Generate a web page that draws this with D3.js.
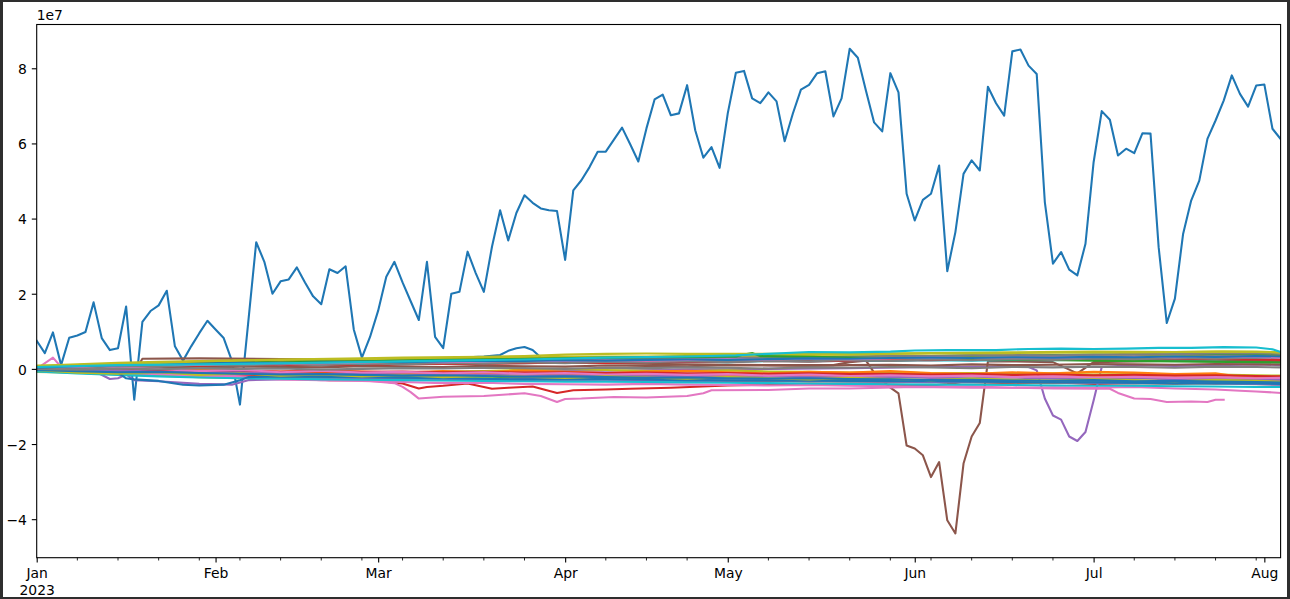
<!DOCTYPE html>
<html>
<head>
<meta charset="utf-8">
<script src="https://cdn.jsdelivr.net/npm/d3@7"></script>
<style>
  html, body { margin: 0; padding: 0; background: #2e2e2e; }
  svg { display: block; }
  text { font-family: "DejaVu Sans", sans-serif; font-size: 13.9px; fill: #000; }
</style>
</head>
<body>
<div id="chart"></div>
<script>
// all values are in units of 1e7 (the axis offset label)

// main series, one value per business day (Jan 2 .. Aug 3 2023)
const flowTotal = [
  0.75, 0.42, 0.97, 0.1, 0.83, 0.89, 0.98, 1.77, 0.82, 0.5,
  0.55, 1.66, -0.82, 1.25, 1.54, 1.69, 2.08, 0.6, 0.22, 0.6,
  0.95, 1.28, 1.05, 0.82, 0.22, -0.95, 1.2, 3.37, 2.85, 2.0,
  2.33, 2.38, 2.7, 2.3, 1.93, 1.72, 2.65, 2.55, 2.73, 1.05,
  0.3, 0.85, 1.55, 2.45, 2.85, 2.3, 1.8, 1.3, 2.85, 0.85,
  0.55, 2.0, 2.05, 3.12, 2.55, 2.05, 3.25, 4.22, 3.42, 4.15,
  4.62, 4.42, 4.27, 4.22, 4.2, 2.9, 4.75, 5.02, 5.37, 5.78,
  5.78, 6.1, 6.42, 5.98, 5.52, 6.4, 7.17, 7.3, 6.75, 6.8,
  7.55, 6.35, 5.62, 5.9, 5.35, 6.8, 7.88, 7.93, 7.2, 7.07,
  7.36, 7.12, 6.06, 6.79, 7.43, 7.56, 7.87, 7.92, 6.72, 7.2,
  8.52, 8.28, 7.4, 6.56, 6.32, 7.87, 7.36, 4.66, 3.95, 4.5,
  4.66, 5.41, 2.6, 3.64, 5.19, 5.55, 5.28, 7.51, 7.07, 6.74,
  8.45, 8.5, 8.07, 7.85, 4.44, 2.8, 3.11, 2.64, 2.49, 3.33,
  5.5, 6.86, 6.63, 5.68, 5.86, 5.74, 6.27, 6.26, 3.24, 1.22,
  1.87, 3.58, 4.48, 5.01, 6.12, 6.61, 7.14, 7.81, 7.32, 6.98,
  7.54, 7.57, 6.39, 6.12
];

// distinct series, as [business day index, value]
const brownDip = [[0,-0.05],[5,0.0],[12,-0.1],[13,0.27],[20,0.28],[30,0.26],[40,0.24],[50,0.22],[60,0.18],
  [70,0.15],[80,0.12],[90,0.1],[98,0.1],[100,0.18],[102,0.22],[103,-0.1],[104,-0.3],[105,-0.5],[106,-0.65],
  [107,-2.04],[108,-2.12],[109,-2.3],[110,-2.88],[111,-2.48],[112,-4.03],[113,-4.38],[114,-2.52],[115,-1.8],
  [116,-1.44],[117,0.2],[120,0.2],[125,0.18],[128,-0.12],[130,0.18],[135,0.2],[140,0.22],[145,0.2],[150,0.22],[153,0.2]];

const purpleDip = [[0,0.02],[5,-0.05],[10,-0.08],[20,-0.1],[30,-0.12],[40,-0.1],[50,-0.08],[60,-0.05],[70,-0.05],
  [80,-0.02],[90,0.0],[100,0.02],[110,0.05],[115,0.05],[120,0.06],[122,0.05],[123,-0.04],[124,-0.79],[125,-1.24],
  [126,-1.35],[127,-1.8],[128,-1.92],[129,-1.68],[130,-0.84],[131,0.05],[135,0.1],[140,0.08],[145,0.1],[150,0.12],[153,0.1]];

const pinkLow = [[0,0.0],[2,0.3],[3,0.05],[5,0.0],[10,-0.05],[15,-0.1],[20,-0.15],[25,-0.2],[30,-0.25],[35,-0.3],
  [40,-0.3],[44,-0.38],[45,-0.48],[46,-0.62],[47,-0.79],[50,-0.74],[55,-0.72],[60,-0.65],[62,-0.72],[64,-0.88],
  [65,-0.8],[67,-0.79],[71,-0.75],[75,-0.76],[80,-0.72],[82,-0.65],[83,-0.57],[90,-0.56],[95,-0.52],[100,-0.52],
  [108,-0.48],[115,-0.5],[120,-0.5],[125,-0.52],[130,-0.53],[132,-0.53],[133,-0.64],[135,-0.79],[137,-0.8],
  [139,-0.88],[142,-0.87],[144,-0.88],[145,-0.82],[146,-0.82]];

const pinkEnd = [[0,-0.05],[5,-0.07],[10,-0.1],[15,-0.14],[20,-0.18],[25,-0.22],[30,-0.28],[35,-0.3],[40,-0.32],
  [45,-0.35],[50,-0.38],[55,-0.37],[60,-0.4],[65,-0.41],[70,-0.42],[75,-0.4],[80,-0.42],[85,-0.43],[90,-0.44],
  [95,-0.43],[100,-0.45],[105,-0.46],[110,-0.47],[115,-0.46],[120,-0.5],[125,-0.49],[130,-0.5],[135,-0.48],
  [140,-0.52],[145,-0.55],[148,-0.58],[150,-0.6],[153,-0.64]];

const redLow = [[0,-0.02],[5,-0.05],[10,-0.08],[15,-0.1],[20,-0.15],[25,-0.18],[30,-0.22],[36,-0.3],[41,-0.3],
  [45,-0.39],[47,-0.52],[48,-0.48],[50,-0.45],[53,-0.39],[56,-0.53],[58,-0.5],[61,-0.47],[64,-0.64],[66,-0.57],
  [70,-0.55],[73,-0.53],[78,-0.5],[85,-0.44],[90,-0.42],[95,-0.39],[100,-0.4],[105,-0.42],[110,-0.44],[112,-0.4],
  [114,-0.35],[120,-0.38],[125,-0.36],[130,-0.4],[135,-0.38],[140,-0.35],[145,-0.38],[150,-0.35],[153,-0.36]];

const cyanTop = [[0,0.05],[10,0.1],[20,0.12],[30,0.15],[40,0.18],[50,0.22],[60,0.25],[70,0.3],[80,0.33],[86,0.36],
  [90,0.4],[95,0.45],[100,0.44],[105,0.46],[108,0.49],[112,0.5],[118,0.5],[122,0.53],[126,0.54],[130,0.53],
  [134,0.54],[138,0.56],[142,0.56],[146,0.58],[150,0.57],[152,0.52],[153,0.45]];

const oliveTop = [[0,0.08],[10,0.12],[20,0.2],[30,0.25],[40,0.28],[45,0.3],[55,0.32],[60,0.34],[65,0.38],[70,0.4],
  [75,0.41],[80,0.4],[85,0.4],[90,0.4],[100,0.4],[110,0.42],[120,0.44],[130,0.46],[140,0.45],[146,0.46],[150,0.45],[153,0.44]];

const blueBump = [[0,0.0],[10,0.1],[20,0.15],[30,0.2],[40,0.25],[50,0.28],[53,0.31],[55,0.33],[57,0.37],[58,0.48],
  [59,0.55],[60,0.58],[61,0.5],[62,0.3],[63,0.25],[70,0.22],[80,0.2],[90,0.22],[100,0.25],[110,0.28],[120,0.28],
  [130,0.3],[140,0.3],[150,0.3],[153,0.28]];

const blueJan = [[0,-0.02],[5,-0.05],[10,-0.1],[11,-0.25],[12,-0.28],[15,-0.32],[18,-0.42],[20,-0.44],[23,-0.42],
  [25,-0.3],[26,-0.22],[30,-0.2],[40,-0.22],[50,-0.25],[60,-0.28],[70,-0.27],[80,-0.3],[90,-0.31],[100,-0.32],
  [110,-0.33],[120,-0.35],[130,-0.36],[140,-0.38],[150,-0.39],[153,-0.4]];

const purpleJan = [[0,0.02],[7,-0.05],[9,-0.27],[10,-0.25],[11,-0.15],[12,-0.3],[15,-0.33],[20,-0.4],[24,-0.42],
  [26,-0.3],[30,-0.28],[40,-0.27],[50,-0.3],[60,-0.28],[70,-0.3],[80,-0.32],[90,-0.3],[100,-0.33],[110,-0.35],
  [120,-0.33],[130,-0.37],[140,-0.36],[150,-0.4],[153,-0.42]];

const greenSpike = [[0,0.03],[10,0.08],[20,0.14],[30,0.18],[40,0.2],[50,0.24],[60,0.27],[70,0.3],[80,0.32],[86,0.33],
  [87,0.38],[88,0.42],[89,0.34],[95,0.32],[100,0.3],[110,0.27],[120,0.25],[130,0.22],[140,0.2],[150,0.18],[153,0.17]];

// the dense band: weekly readings (every 5th business day)
const weekDays = [0,5,10,15,20,25,30,35,40,45,50,55,60,65,70,75,80,85,90,95,100,105,110,115,120,125,130,135,140,145,150,153];
const orangeA = [0.05,0.08,0.12,0.1,0.14,0.16,0.15,0.18,0.2,0.19,0.22,0.21,0.24,0.23,0.2,0.22,0.25,0.24,0.27,0.26,0.28,0.3,0.29,0.31,0.3,0.33,0.32,0.34,0.33,0.35,0.36,0.34];
const greenA = [-0.04,-0.08,-0.1,-0.14,-0.13,-0.16,-0.18,-0.17,-0.2,-0.22,-0.21,-0.2,-0.23,-0.24,-0.22,-0.25,-0.26,-0.24,-0.27,-0.28,-0.3,-0.29,-0.31,-0.3,-0.32,-0.33,-0.31,-0.34,-0.33,-0.35,-0.36,-0.35];
const redA = [0.02,0.0,-0.03,0.02,0.06,0.08,0.07,0.1,0.08,0.12,0.14,0.13,0.15,0.17,0.16,0.18,0.2,0.19,0.21,0.2,0.22,0.24,0.23,0.25,0.26,0.24,0.27,0.28,0.27,0.26,0.25,0.24];
const purpleA = [-0.02,-0.05,-0.04,-0.08,-0.1,-0.09,-0.12,-0.14,-0.13,-0.15,-0.17,-0.16,-0.18,-0.17,-0.19,-0.2,-0.18,-0.21,-0.2,-0.22,-0.23,-0.21,-0.24,-0.25,-0.23,-0.26,-0.27,-0.25,-0.28,-0.27,-0.29,-0.3];
const brownA = [0.0,0.02,0.05,0.04,0.03,0.06,0.05,0.04,0.07,0.06,0.05,0.08,0.07,0.06,0.09,0.08,0.07,0.1,0.09,0.08,0.1,0.11,0.09,0.12,0.1,0.11,0.13,0.12,0.11,0.13,0.12,0.12];
const pinkA = [0.03,0.06,0.1,0.12,0.11,0.14,0.16,0.15,0.17,0.19,0.18,0.2,0.22,0.21,0.23,0.22,0.24,0.26,0.25,0.27,0.26,0.28,0.3,0.29,0.31,0.3,0.32,0.33,0.31,0.33,0.32,0.3];
const grayA = [-0.06,-0.1,-0.14,-0.17,-0.2,-0.22,-0.21,-0.24,-0.26,-0.25,-0.27,-0.28,-0.27,-0.29,-0.3,-0.31,-0.3,-0.32,-0.33,-0.32,-0.34,-0.35,-0.36,-0.35,-0.37,-0.38,-0.37,-0.39,-0.4,-0.39,-0.41,-0.42];
const oliveA = [-0.08,-0.1,-0.15,-0.18,-0.22,-0.25,-0.2,-0.18,-0.12,-0.1,-0.08,-0.06,-0.02,0.0,-0.03,-0.05,-0.06,-0.04,-0.07,-0.08,-0.1,-0.09,-0.12,-0.11,-0.13,-0.12,-0.15,-0.14,-0.16,-0.15,-0.17,-0.18];
const cyanA = [0.01,0.03,0.06,0.08,0.07,0.1,0.12,0.11,0.13,0.15,0.14,0.16,0.15,0.18,0.17,0.19,0.2,0.18,0.21,0.2,0.22,0.21,0.23,0.22,0.24,0.23,0.25,0.24,0.26,0.25,0.27,0.26];
const blueA = [-0.03,-0.06,-0.09,-0.08,-0.11,-0.13,-0.15,-0.14,-0.16,-0.18,-0.17,-0.19,-0.21,-0.2,-0.22,-0.24,-0.23,-0.25,-0.26,-0.25,-0.27,-0.28,-0.3,-0.29,-0.31,-0.32,-0.3,-0.33,-0.32,-0.34,-0.35,-0.36];
const orangeB = [-0.05,-0.07,-0.1,-0.12,-0.1,-0.08,-0.09,-0.11,-0.1,-0.12,-0.14,-0.13,-0.12,-0.15,-0.14,-0.16,-0.15,-0.17,-0.16,-0.18,-0.19,-0.17,-0.2,-0.19,-0.21,-0.2,-0.22,-0.21,-0.23,-0.22,-0.24,-0.25];
const greenB = [0.06,0.1,0.13,0.16,0.18,0.17,0.2,0.22,0.21,0.23,0.25,0.24,0.26,0.25,0.27,0.29,0.28,0.3,0.29,0.31,0.33,0.32,0.34,0.36,0.35,0.37,0.38,0.37,0.39,0.38,0.4,0.38];
const redB = [-0.01,-0.02,-0.04,-0.03,-0.06,-0.05,-0.07,-0.06,-0.08,-0.07,-0.09,-0.08,-0.1,-0.09,-0.11,-0.1,-0.12,-0.11,-0.13,-0.12,-0.14,-0.13,-0.15,-0.14,-0.16,-0.15,-0.17,-0.16,-0.18,-0.17,-0.19,-0.2];
const grayB = [0.04,0.08,0.1,0.13,0.15,0.18,0.19,0.2,0.22,0.24,0.23,0.25,0.27,0.26,0.28,0.3,0.29,0.31,0.32,0.31,0.33,0.35,0.34,0.36,0.37,0.36,0.38,0.4,0.39,0.41,0.42,0.4];
const oliveB = [0.08,0.12,0.16,0.19,0.21,0.22,0.24,0.25,0.26,0.27,0.28,0.29,0.3,0.32,0.33,0.33,0.34,0.35,0.36,0.37,0.38,0.4,0.41,0.42,0.42,0.43,0.44,0.44,0.45,0.46,0.46,0.44];
const cyanB = [-0.07,-0.12,-0.16,-0.2,-0.23,-0.25,-0.26,-0.28,-0.29,-0.3,-0.31,-0.32,-0.33,-0.34,-0.34,-0.35,-0.36,-0.37,-0.38,-0.39,-0.4,-0.41,-0.42,-0.42,-0.43,-0.44,-0.45,-0.45,-0.46,-0.47,-0.48,-0.48];
const grayC = [0.0,-0.02,0.01,-0.01,0.02,0.0,0.01,-0.02,0.0,0.02,0.01,0.03,0.02,0.0,0.03,0.02,0.04,0.03,0.01,0.04,0.03,0.05,0.04,0.02,0.05,0.04,0.06,0.05,0.03,0.06,0.05,0.04];
const blueB = [0.03,0.07,0.1,0.12,0.14,0.16,0.15,0.17,0.19,0.18,0.2,0.22,0.21,0.23,0.22,0.24,0.25,0.24,0.26,0.28,0.27,0.29,0.3,0.29,0.31,0.3,0.32,0.31,0.33,0.32,0.34,0.33];
const orangeC = [-0.02,0.03,-0.04,-0.06,0.0,-0.05,-0.08,-0.03,-0.07,-0.1,-0.06,-0.09,-0.04,-0.08,-0.11,-0.07,-0.05,-0.09,-0.12,-0.08,-0.1,-0.06,-0.11,-0.13,-0.09,-0.12,-0.08,-0.1,-0.14,-0.12,-0.27,-0.28];
const pinkB = [0.02,-0.03,0.04,0.0,-0.06,-0.02,-0.09,-0.05,-0.1,-0.08,-0.12,-0.09,-0.13,-0.11,-0.15,-0.13,-0.16,-0.14,-0.18,-0.15,-0.19,-0.17,-0.2,-0.18,-0.22,-0.2,-0.23,-0.21,-0.24,-0.22,-0.25,-0.24];
const grayD = [0.05,0.02,0.08,0.06,0.11,0.09,0.13,0.1,0.15,0.12,0.16,0.14,0.18,0.15,0.19,0.17,0.21,0.18,0.22,0.2,0.24,0.21,0.25,0.23,0.27,0.24,0.28,0.26,0.29,0.27,0.3,0.29];
const oliveC = [-0.03,-0.1,-0.13,-0.09,-0.16,-0.12,-0.18,-0.15,-0.2,-0.17,-0.22,-0.19,-0.21,-0.24,-0.2,-0.23,-0.26,-0.22,-0.25,-0.28,-0.24,-0.27,-0.3,-0.26,-0.29,-0.31,-0.28,-0.3,-0.33,-0.29,-0.32,-0.34];

const yTicks = [-4, -2, 0, 2, 4, 6, 8];
const offsetLabel = "1e7";

// ---------------------------------------------------------------
const tab10 = d3.schemeCategory10;
const weekly = vals => vals.map((v, i) => [weekDays[i], v]);

// draw order, colour index into tab10
const lines = [
  [flowTotal.map((v, i) => [i, v]), 0],
  [weekly(orangeA), 1], [weekly(greenA), 2], [redLow, 3], [purpleDip, 4], [brownDip, 5],
  [pinkLow, 6], [weekly(grayA), 7], [weekly(oliveA), 8], [weekly(cyanA), 9],
  [blueBump, 0], [weekly(orangeB), 1], [weekly(greenB), 2], [weekly(redA), 3], [purpleJan, 4],
  [weekly(brownA), 5], [pinkEnd, 6], [weekly(grayB), 7], [weekly(oliveB), 8], [weekly(cyanB), 9],
  [blueJan, 0], [weekly(orangeC), 1], [greenSpike, 2], [weekly(redB), 3], [weekly(purpleA), 4],
  [weekly(pinkB), 6], [weekly(grayD), 7], [weekly(oliveC), 8],
  [weekly(blueA), 0], [weekly(pinkA), 6], [weekly(grayC), 7], [weekly(blueB), 0], [oliveTop, 8], [cyanTop, 9]
];

// business days Jan 2 .. Aug 3 2023
const days = d3.timeDay.range(new Date(2023, 0, 2), new Date(2023, 7, 4))
  .filter(d => d.getDay() !== 0 && d.getDay() !== 6);

const majorIdx = days.map((d, i) => i).filter(i => i === 0 || days[i].getMonth() !== days[i - 1].getMonth());
const minorIdx = days.map((d, i) => i).filter(i => days[i].getDay() === 1 && !majorIdx.includes(i));

const W = 1290, H = 599;
const margin = { top: 24.5, right: 9.4, bottom: 41.3, left: 36.7 };
const width = W - margin.left - margin.right;
const height = H - margin.top - margin.bottom;

const svgRoot = d3.select("#chart").append("svg").attr("width", W).attr("height", H);
svgRoot.append("rect").attr("width", W).attr("height", H).attr("fill", "#2e2e2e");
svgRoot.append("rect").attr("x", 3).attr("y", 2).attr("width", W - 6).attr("height", H - 4).attr("fill", "#fff");

const svg = svgRoot.append("g").attr("transform", "translate(" + margin.left + "," + margin.top + ")");

const x = d3.scaleLinear().domain([0, days.length - 1]).range([0, width]);
const y = d3.scaleLinear().domain([-5.025, 9.165]).range([height, 0]);

svg.append("clipPath").attr("id", "plot-clip")
  .append("rect").attr("width", width).attr("height", height);

const line = d3.line()
  .x(d => x(d[0]))
  .y(d => y(d[1]));

const plot = svg.append("g").attr("clip-path", "url(#plot-clip)");
for (const [pts, c] of lines) {
  plot.append("path")
    .datum(pts)
    .attr("fill", "none")
    .attr("stroke", tab10[c])
    .attr("stroke-width", 2.08)
    .attr("stroke-linejoin", "round")
    .attr("stroke-linecap", "square")
    .attr("d", line);
}

// frame
svg.append("rect")
  .attr("width", width).attr("height", height)
  .attr("fill", "none").attr("stroke", "#000").attr("stroke-width", 1.1);

// y axis
const fmt = d => (d < 0 ? "\u2212" + Math.abs(d) : String(d));
const yAxis = svg.append("g")
  .call(d3.axisLeft(y).tickValues(yTicks).tickSize(4.9).tickPadding(4.9).tickFormat(fmt));
yAxis.select(".domain").remove();
yAxis.selectAll("line").attr("stroke", "#000").attr("stroke-width", 1.1);
yAxis.selectAll("text").attr("font-size", null).attr("font-family", null).attr("dy", "0.38em");

svg.append("text")
  .attr("x", 0).attr("y", -4.2)
  .text(offsetLabel);

// x axis, major ticks at the first business day of each month
const monthFmt = d3.timeFormat("%b");
const xAxis = svg.append("g")
  .attr("transform", "translate(0," + height + ")")
  .call(d3.axisBottom(x).tickValues(majorIdx).tickSize(4.9).tickPadding(4.9)
    .tickFormat(i => monthFmt(days[i])));
xAxis.select(".domain").remove();
xAxis.selectAll("line").attr("stroke", "#000").attr("stroke-width", 1.1);
xAxis.selectAll("text").attr("font-size", null).attr("font-family", null).attr("dy", "0.76em")
  .each(function (i) {
    if (i === 0) {
      d3.select(this).append("tspan").attr("x", 0).attr("dy", "1.2em").text(days[i].getFullYear());
    }
  });

// weekly minor ticks
svg.append("g")
  .attr("transform", "translate(0," + height + ")")
  .selectAll("line")
  .data(minorIdx)
  .enter().append("line")
  .attr("x1", d => x(d)).attr("x2", d => x(d))
  .attr("y1", 0).attr("y2", 2.8)
  .attr("stroke", "#000").attr("stroke-width", 0.85);
</script>
</body>
</html>
